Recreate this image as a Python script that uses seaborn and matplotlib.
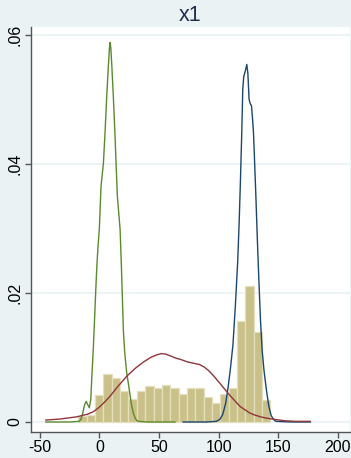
import numpy as np
import pandas as pd
import matplotlib
matplotlib.use("Agg")
import matplotlib.pyplot as plt
import seaborn as sns

# ---- data ----
bin_start = -17.6
bin_width = 7.0
hist_heights = [0.0009, 0.0011, 0.0042, 0.0074, 0.0068, 0.0048, 0.0036, 0.0048,
                0.0055, 0.0052, 0.0058, 0.0052, 0.0043, 0.0053, 0.0053, 0.0039,
                0.0030, 0.0043, 0.0053, 0.0156, 0.0211, 0.0139, 0.0034]

green_x = [-45, -25, -17, -15.5, -14, -12.5, -11.1, -9.8, -8.4, -7.2, -6.4, -5.6, -5,
           -4, -3, -2, -1, 0, 1.4, 2.5, 3.4, 4.8, 6.2, 7.5, 8.5, 9.0, 9.6, 10.5, 11.7,
           13, 14, 15.1, 16.2, 17.4, 18.5, 19.5, 20.1, 21, 21.8, 23, 24.3, 25.7, 27.2,
           28.6, 30, 31.5, 33, 40, 63.6]
green_y = [0, 0, 0.0001, 0.0004, 0.0013, 0.0026, 0.0032, 0.0027, 0.0022, 0.0035,
           0.0066, 0.0095, 0.0117, 0.0160, 0.0205, 0.0245, 0.0275, 0.0300, 0.0365,
           0.0385, 0.0401, 0.045, 0.0505, 0.055, 0.058, 0.0588, 0.058, 0.055, 0.0505,
           0.045, 0.0401, 0.035, 0.0325, 0.0298, 0.024, 0.018, 0.0143, 0.0115, 0.0097,
           0.0075, 0.006, 0.0042, 0.0024, 0.0013, 0.0006, 0.0002, 0.0001, 0, 0]

blue_x = [70, 90, 98, 101, 103.5, 106, 108, 110, 112, 114, 116, 117.2, 118.2, 119.4,
          120.2, 121, 122.5, 123.6, 124.5, 125.5, 126.5, 127.5, 128.4, 129.2, 130.2,
          131.2, 132.3, 133.5, 135, 136.5, 138, 140, 142, 144, 146, 148, 160, 177]
blue_y = [0, 0, 0.0001, 0.0004, 0.0012, 0.0030, 0.0055, 0.0085, 0.0120, 0.0180,
          0.0250, 0.0310, 0.0370, 0.0450, 0.0515, 0.0535, 0.0545, 0.0554, 0.0540,
          0.0500, 0.0493, 0.0490, 0.0470, 0.0448, 0.0400, 0.0350, 0.0290, 0.0230,
          0.0160, 0.0110, 0.0080, 0.0050, 0.0025, 0.0010, 0.0004, 0.0001, 0, 0]

red_x = [-45, -33, -19, -10, -5, 0, 5, 9, 15, 23, 30, 37, 43, 48, 52, 56, 60, 64, 68,
         74, 79, 84, 88, 92, 96, 101, 105, 110, 114, 118, 122, 126, 130, 135, 140,
         147, 155, 165, 177]
red_y = [0.0003, 0.00046, 0.0008, 0.0012, 0.0016, 0.0023, 0.0032, 0.004, 0.0054,
         0.0071, 0.0083, 0.0093, 0.0100, 0.0104, 0.0106, 0.0105, 0.0102, 0.0099,
         0.0097, 0.0093, 0.0091, 0.0089, 0.0085, 0.0079, 0.0071, 0.006, 0.0051,
         0.004, 0.0032, 0.0024, 0.0019, 0.0014, 0.0011, 0.0008, 0.0006, 0.0004,
         0.0002, 0.0001, 0.0001]

x_ticks = [-50, 0, 50, 100, 150, 200]
y_ticks = [0, 0.02, 0.04, 0.06]
y_tick_labels = ["0", ".02", ".04", ".06"]
title = "x1"

# ---- styling ----
BG = "#EAF2F3"
sns.set_theme(style="white")
plt.rcParams["font.family"] = ["Liberation Sans", "DejaVu Sans"]

W, H, DPI = 351, 458, 100
fig = plt.figure(figsize=(W / DPI, H / DPI), dpi=DPI, facecolor=BG)
ax = fig.add_axes([31 / W, 1 - 432 / H, (350 - 31) / W, (432 - 27) / H])
ax.set_facecolor("white")

edges = [bin_start + bin_width * i for i in range(len(hist_heights) + 1)]
centers = [(edges[i] + edges[i + 1]) / 2 for i in range(len(hist_heights))]
hist_df = pd.DataFrame({"x": centers, "h": hist_heights})
sns.histplot(data=hist_df, x="x", weights="h", bins=edges, stat="count",
             color="#C9C189", edgecolor="#E4DFBC", linewidth=0.9, alpha=1.0, ax=ax,
             zorder=2)

sns.lineplot(x=green_x, y=green_y, sort=False, color="#5B8A2D", linewidth=1.0, ax=ax, zorder=3)
sns.lineplot(x=blue_x, y=blue_y, sort=False, color="#1A476F", linewidth=1.0, ax=ax, zorder=3)
sns.lineplot(x=red_x, y=red_y, sort=False, color="#90353B", linewidth=1.0, ax=ax, zorder=4)

ax.set_xlim(-57.3, 210.1)
ax.set_ylim(-0.00155, 0.0612)
ax.set_xticks(x_ticks)
ax.set_xticklabels([str(t) for t in x_ticks])
ax.set_yticks(y_ticks)
ax.set_yticklabels(y_tick_labels, rotation=90, va="center")
ax.set_xlabel("")
ax.set_ylabel("")

ax.yaxis.grid(True, color=BG, linewidth=1.2, zorder=0)
ax.set_axisbelow(True)
for s in ["top", "right"]:
    ax.spines[s].set_visible(False)
for s in ["left", "bottom"]:
    ax.spines[s].set_color("#555555")
    ax.spines[s].set_linewidth(1.0)
ax.tick_params(axis="both", which="major", direction="out", length=4, width=1.0,
               color="#555555", labelsize=11.5, labelcolor="black", pad=2,
               left=True, bottom=True)

ax.set_title(title, fontsize=15.5, color="#1E2D4A", pad=4)

fig.savefig("out.png", dpi=DPI, facecolor=BG)
